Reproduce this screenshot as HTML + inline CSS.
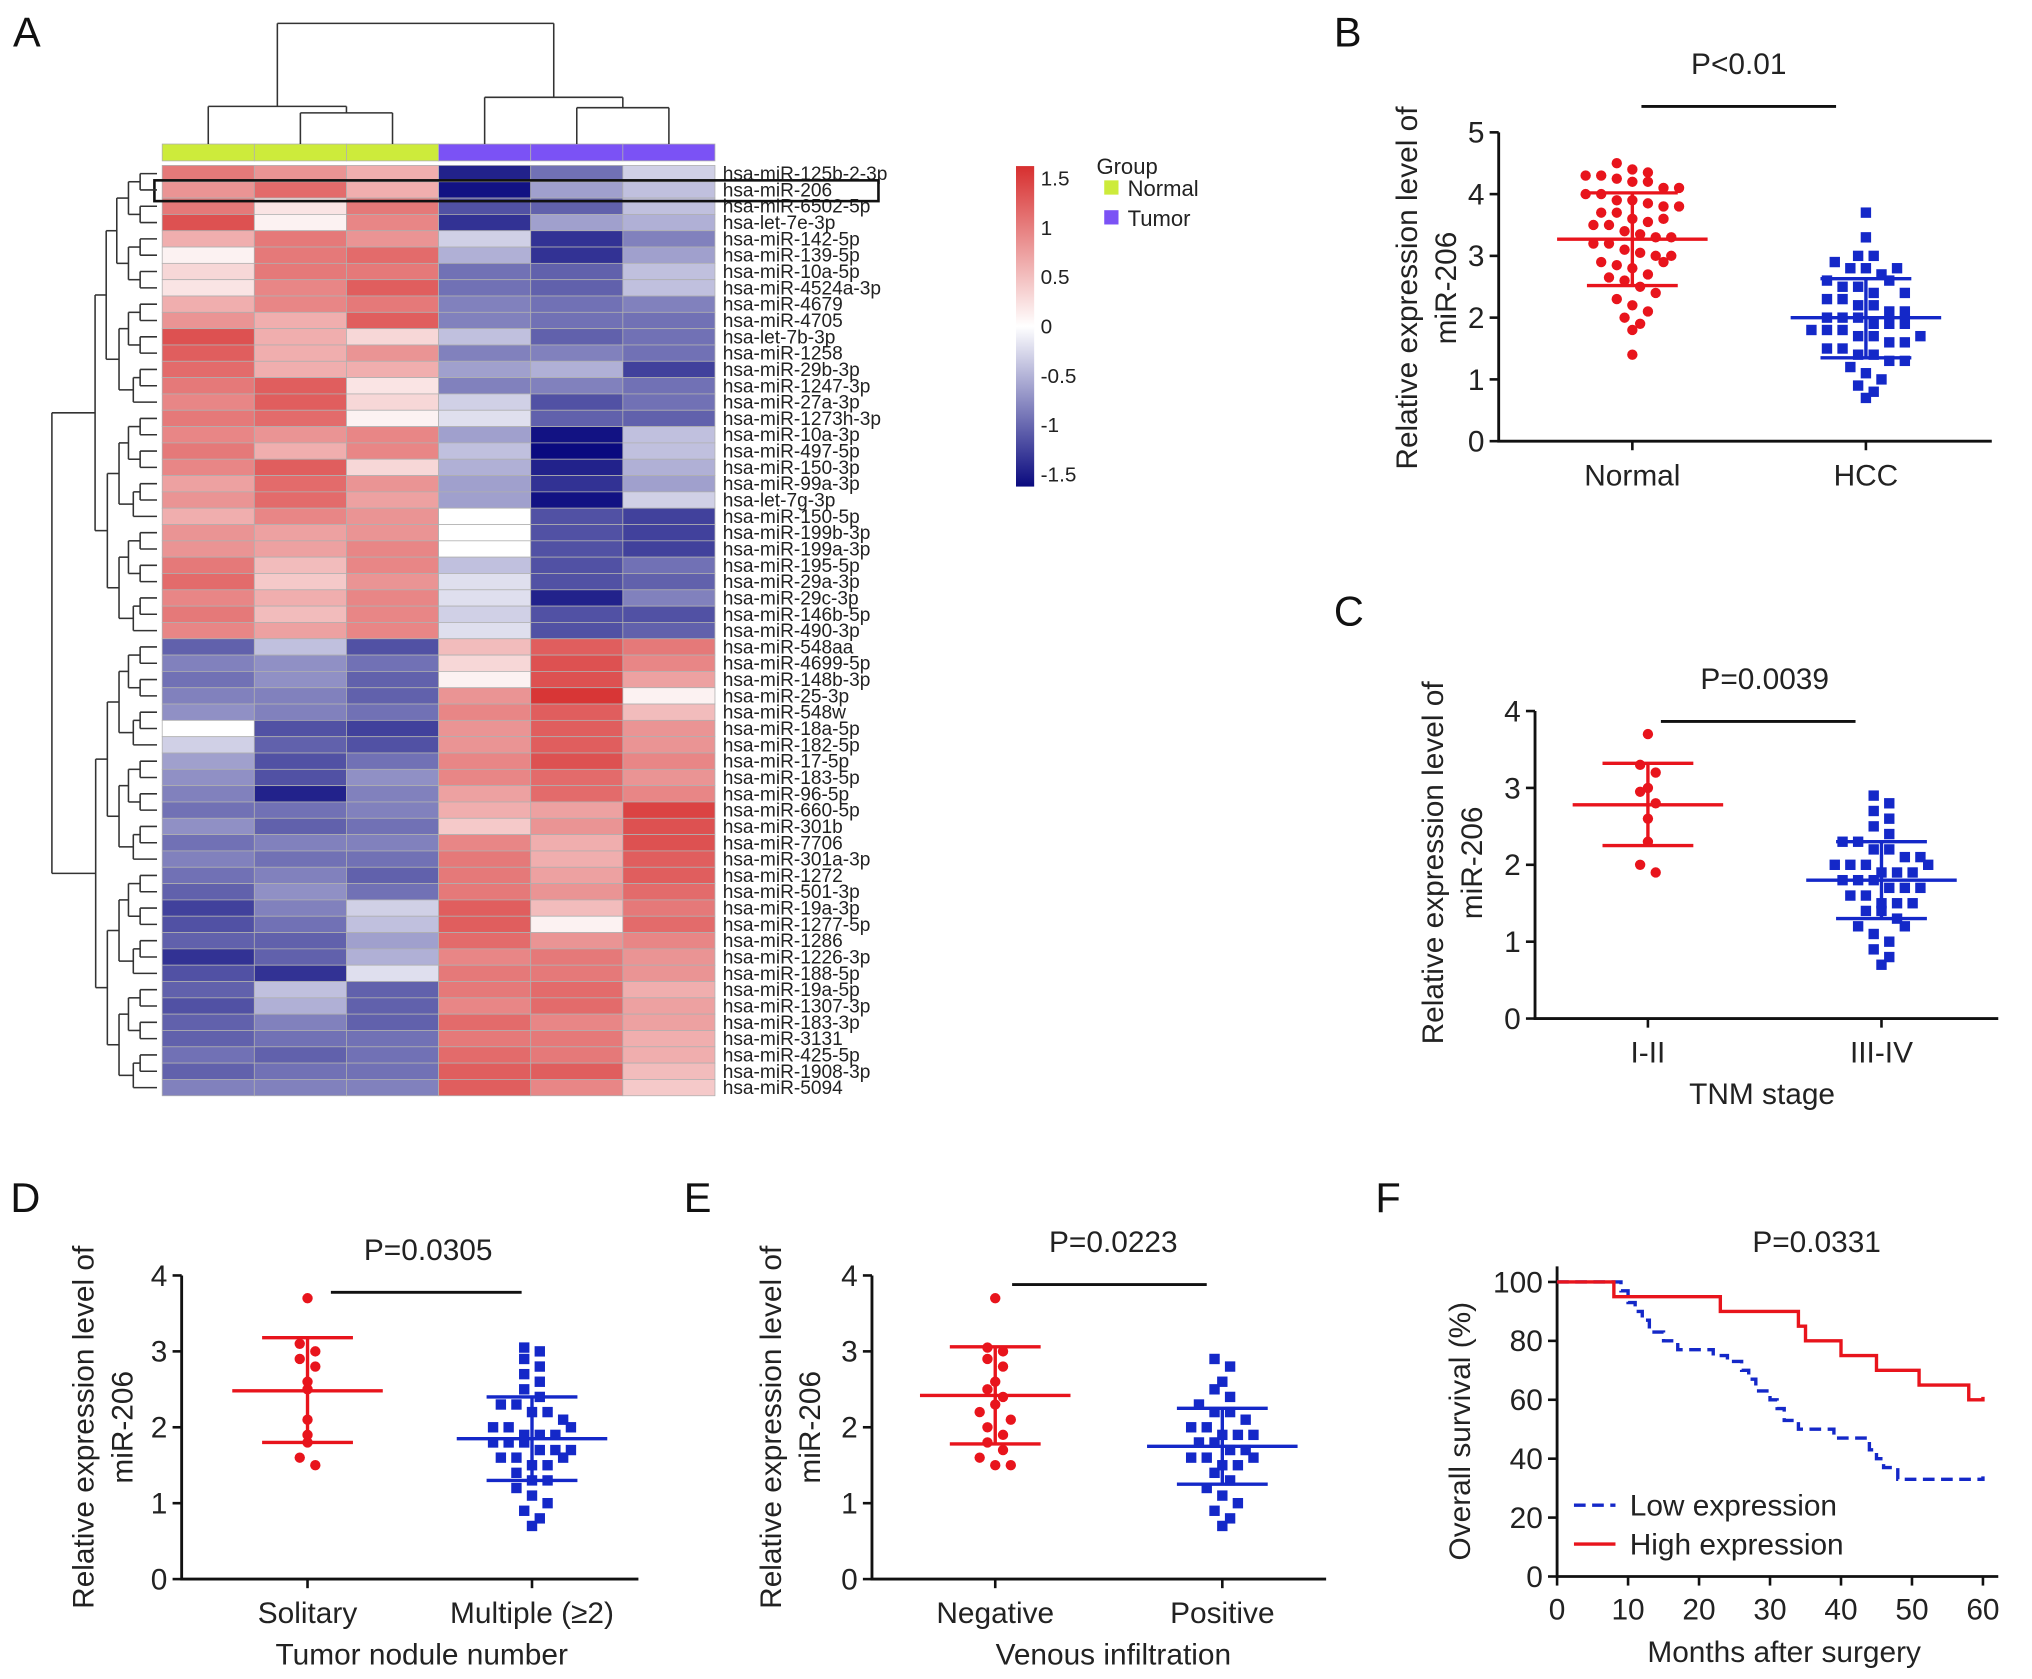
<!DOCTYPE html>
<html><head><meta charset="utf-8"><style>
html,body{margin:0;padding:0;background:#fff;}
svg{display:block;font-family:"Liberation Sans",Arial,sans-serif;}
</style></head><body>
<svg id="fig" width="2032" height="1679" viewBox="0 0 1566 1294" preserveAspectRatio="none" xmlns="http://www.w3.org/2000/svg">
<rect width="1566" height="1294" fill="#fff"/>
<g id="root"></g>
</svg>
<script>
// ===== Heatmap data =====
const hmRows = ["hsa-miR-125b-2-3p","hsa-miR-206","hsa-miR-6502-5p","hsa-let-7e-3p","hsa-miR-142-5p","hsa-miR-139-5p","hsa-miR-10a-5p","hsa-miR-4524a-3p","hsa-miR-4679","hsa-miR-4705","hsa-let-7b-3p","hsa-miR-1258","hsa-miR-29b-3p","hsa-miR-1247-3p","hsa-miR-27a-3p","hsa-miR-1273h-3p","hsa-miR-10a-3p","hsa-miR-497-5p","hsa-miR-150-3p","hsa-miR-99a-3p","hsa-let-7g-3p","hsa-miR-150-5p","hsa-miR-199b-3p","hsa-miR-199a-3p","hsa-miR-195-5p","hsa-miR-29a-3p","hsa-miR-29c-3p","hsa-miR-146b-5p","hsa-miR-490-3p","hsa-miR-548aa","hsa-miR-4699-5p","hsa-miR-148b-3p","hsa-miR-25-3p","hsa-miR-548w","hsa-miR-18a-5p","hsa-miR-182-5p","hsa-miR-17-5p","hsa-miR-183-5p","hsa-miR-96-5p","hsa-miR-660-5p","hsa-miR-301b","hsa-miR-7706","hsa-miR-301a-3p","hsa-miR-1272","hsa-miR-501-3p","hsa-miR-19a-3p","hsa-miR-1277-5p","hsa-miR-1286","hsa-miR-1226-3p","hsa-miR-188-5p","hsa-miR-19a-5p","hsa-miR-1307-3p","hsa-miR-183-3p","hsa-miR-3131","hsa-miR-425-5p","hsa-miR-1908-3p","hsa-miR-5094"];
const hmGroups = ["Normal","Normal","Normal","Tumor","Tumor","Tumor"];
const hmValues = [
[1.0,0.8,0.6,-1.4,-0.9,-0.3],[0.8,1.1,0.6,-1.5,-0.6,-0.4],[1.0,0.2,1.0,-1.1,-1.0,-0.4],[1.3,0.1,0.9,-1.3,-0.6,-0.5],
[0.6,1.0,0.8,-0.3,-1.3,-0.8],[0.1,1.0,1.1,-0.5,-1.3,-0.6],[0.3,1.0,1.0,-0.9,-1.0,-0.4],[0.2,0.9,1.2,-0.9,-1.0,-0.4],
[0.6,0.9,1.0,-0.8,-0.9,-0.8],[0.8,0.6,1.2,-0.8,-0.9,-0.9],[1.3,0.6,0.3,-0.4,-1.0,-0.9],[1.2,0.6,0.8,-0.8,-0.8,-0.9],
[1.1,0.6,0.6,-0.6,-0.5,-1.2],[1.0,1.2,0.2,-0.8,-0.8,-0.9],[0.9,1.2,0.3,-0.3,-1.1,-0.9],[1.0,1.1,0.1,-0.2,-1.0,-1.0],
[0.9,0.8,0.9,-0.6,-1.5,-0.4],[1.0,0.6,0.9,-0.4,-1.6,-0.4],[0.9,1.2,0.3,-0.5,-1.4,-0.5],[0.7,1.1,0.8,-0.6,-1.3,-0.6],
[0.8,1.1,0.7,-0.6,-1.5,-0.3],[0.6,0.9,0.8,0.0,-1.1,-1.2],[0.8,0.7,0.8,0.0,-1.1,-1.2],[0.8,0.7,0.9,0.0,-1.1,-1.2],
[1.0,0.5,0.9,-0.4,-1.1,-0.9],[1.1,0.4,0.8,-0.2,-1.1,-1.0],[0.9,0.6,0.9,-0.2,-1.4,-0.8],[1.0,0.5,0.9,-0.3,-1.1,-1.1],
[0.9,0.7,0.9,-0.2,-1.1,-1.0],
[-1.0,-0.4,-1.1,0.5,1.2,1.0],[-0.8,-0.7,-0.9,0.3,1.3,0.9],[-0.9,-0.7,-1.0,0.1,1.3,0.7],[-0.8,-0.8,-1.0,0.8,1.5,0.1],
[-0.7,-0.8,-0.9,0.9,1.2,0.5],[0.0,-1.1,-1.2,0.8,1.2,0.8],[-0.3,-1.0,-1.1,0.8,1.2,0.8],[-0.6,-1.1,-0.9,0.9,1.3,0.9],
[-0.7,-1.1,-0.7,0.9,1.1,0.8],[-0.8,-1.4,-0.8,0.7,1.1,0.9],[-0.9,-0.9,-0.8,0.6,0.7,1.4],[-0.7,-1.0,-0.9,0.4,0.8,1.3],
[-0.9,-0.8,-0.8,0.9,0.6,1.3],[-0.8,-0.9,-0.9,1.0,0.6,1.2],[-0.9,-0.8,-1.0,1.0,0.7,1.2],[-1.0,-0.7,-0.9,1.0,0.8,1.1],
[-1.2,-0.8,-0.3,1.2,0.5,1.0],[-1.1,-0.9,-0.4,1.2,0.1,1.1],[-1.0,-1.0,-0.6,1.1,0.8,0.9],[-1.3,-1.0,-0.5,0.9,1.0,0.8],
[-1.1,-1.3,-0.2,1.0,1.0,0.8],[-1.0,-0.4,-1.0,1.0,1.1,0.6],[-1.1,-0.5,-1.0,0.9,1.1,0.7],[-1.0,-0.8,-1.0,1.1,0.9,0.7],
[-1.0,-0.9,-0.9,1.0,1.0,0.6],[-0.9,-1.0,-0.9,1.1,1.0,0.6],[-1.0,-0.9,-0.9,1.2,1.2,0.5],[-0.8,-0.8,-0.8,1.2,0.9,0.4]
];
const cbTicks = [1.5,1,0.5,0,-0.5,-1,-1.5];

// ===== Panel B =====
const bCats = ["Normal","HCC"];
const bNormal = [4.5,4.4,4.35,4.3,4.3,4.25,4.2,4.2,4.1,4.0,4.0,3.9,3.9,3.85,3.8,3.7,3.7,3.6,3.55,3.5,3.5,3.4,3.35,3.3,3.3,3.2,3.2,3.1,3.05,3.0,3.0,2.9,2.85,2.8,2.7,2.65,2.6,2.5,2.4,2.3,2.2,2.1,2.0,1.9,1.8,1.4,3.6,3.8,2.9,4.1];
const bHCC = [3.7,3.3,3.0,3.0,2.9,2.8,2.8,2.7,2.6,2.5,2.5,2.4,2.3,2.3,2.2,2.2,2.1,2.1,2.0,2.0,2.0,1.9,1.9,1.9,1.8,1.8,1.8,1.7,1.7,1.6,1.6,1.5,1.5,1.4,1.4,1.3,1.3,1.2,1.1,1.0,0.9,0.8,0.7,2.6,1.7,2.4,2.8];
const bMean = [3.27,2.0];
const bSdLo = [2.52,1.35];
const bSdHi = [4.02,2.63];
const bTicks = [0,1,2,3,4,5];

// ===== Panel C =====
const cCats = ["I-II","III-IV"];
const cEarly = [3.7,3.3,3.2,3.0,2.95,2.8,2.6,2.3,2.0,1.9];
const cLate = [2.9,2.8,2.7,2.6,2.5,2.4,2.3,2.3,2.2,2.2,2.1,2.1,2.0,2.0,2.0,1.9,1.9,1.9,1.8,1.8,1.8,1.7,1.7,1.7,1.6,1.6,1.5,1.5,1.4,1.4,1.3,1.2,1.1,1.0,0.9,0.8,0.7,2.0,1.5,1.2];
const cMean = [2.78,1.8];
const cSdLo = [2.25,1.3];
const cSdHi = [3.32,2.3];

// ===== Panel D =====
const dCats = ["Solitary","Multiple (\u22652)"];
const dSolitary = [3.7,3.1,3.0,2.9,2.8,2.6,2.5,2.1,1.9,1.8,1.6,1.5];
const dMultiple = [3.05,3.0,2.9,2.8,2.7,2.6,2.5,2.4,2.3,2.3,2.2,2.2,2.1,2.0,2.0,1.9,1.9,1.9,1.8,1.8,1.8,1.7,1.7,1.7,1.6,1.6,1.5,1.5,1.4,1.3,1.2,1.1,1.0,0.9,0.8,0.7,2.0,1.6,1.3];
const dMean = [2.48,1.85];
const dSdLo = [1.8,1.3];
const dSdHi = [3.18,2.4];
const ticks04 = [0,1,2,3,4];

// ===== Panel E =====
const eCats = ["Negative","Positive"];
const eNegative = [3.7,3.05,3.0,2.9,2.8,2.6,2.5,2.4,2.2,2.0,1.9,1.8,1.7,1.6,1.5,1.5,2.3,2.1];
const ePositive = [2.9,2.8,2.6,2.5,2.4,2.3,2.2,2.2,2.1,2.0,2.0,1.9,1.9,1.8,1.8,1.7,1.7,1.6,1.6,1.5,1.5,1.4,1.3,1.2,1.1,1.0,0.9,0.8,0.7,1.9,1.6];
const eMean = [2.42,1.75];
const eSdLo = [1.78,1.25];
const eSdHi = [3.06,2.25];

// ===== Panel F =====
const fHighT = [0,8,12,23,34,35,40,45,51,58,60];
const fHighS = [100,95,95,90,85,80,75,70,65,60,61];
const fLowT = [0,8,9,10,11,12,13,15,17,20,22,24,26,27,28,30,31,32,34,39,41,44,45,46,48,60];
const fLowS = [100,100,97,93,90,87,83,80,77,77,75,73,70,67,63,60,57,53,50,47,47,43,40,37,33,34];
const fXTicks = [0,10,20,30,40,50,60];
const fYTicks = [0,20,40,60,80,100];

const NS="http://www.w3.org/2000/svg";
const root=document.getElementById('root');
function mk(tag,attrs,parent,text){const e=document.createElementNS(NS,tag);for(const k in attrs)e.setAttribute(k,attrs[k]);if(text!==undefined)e.textContent=text;(parent||root).appendChild(e);return e;}
function grp(name){const g=mk('g',{});


return g;}

// ---- panel letters
[["A",10,36],["B",1028,36],["C",1028,482],["D",8,934],["E",527,934],["F",1060,934]].forEach(p=>{
 const t=mk('text',{x:p[1],y:p[2],'font-size':32,fill:'#111'},root,p[0]);
 
 
});

// ===== Heatmap =====
(function(){
 const g=grp('heatmap');
 const x0=125,cw=71,y0=127.5,rh=717/hmRows.length;
 function col(v){
  const t=Math.max(-1.6,Math.min(1.6,v))/1.55;
  if(t>=0){const a=Math.min(1,t);return `rgb(${Math.round(255-a*40)},${Math.round(255-a*208)},${Math.round(255-a*208)})`;}
  const a=Math.min(1,-t);return `rgb(${Math.round(255-a*245)},${Math.round(255-a*245)},${Math.round(255-a*128)})`;
 }
 hmValues.forEach((row,r)=>{
  row.forEach((v,c)=>{
   const e=mk('rect',{x:x0+c*cw,y:y0+r*rh,width:cw,height:rh,fill:col(v),stroke:'#b0b0b0','stroke-width':0.6},g);
   
   
  });
  const t=mk('text',{x:557,y:y0+r*rh+rh*0.5+5,'font-size':15.2,fill:'#222',transform:`translate(557,0) scale(0.97,1) translate(-557,0)`},g,hmRows[r]);
  
  
 });
 hmGroups.forEach((gr,c)=>{
  const e=mk('rect',{x:x0+c*cw,y:111,width:cw,height:13,fill:gr==='Normal'?'#cdeb3b':'#7b52f5',stroke:'#b0b0b0','stroke-width':0.6},g);
  
  
 });
 const hb=mk('rect',{x:119,y:139,width:558,height:16,fill:'none',stroke:'#111','stroke-width':2},g);
 
 
 const cx=i=>x0+cw*(i+0.5);
 const L=(a,b,c,d)=>mk('line',{x1:a,y1:b,x2:c,y2:d,stroke:'#333','stroke-width':1.2},g);
 const m01=(cx(1)+cx(2))/2, m45=(cx(4)+cx(5))/2;
 L(cx(1),111,cx(1),87);L(cx(2),111,cx(2),87);L(cx(1),87,cx(2),87);
 L(cx(0),111,cx(0),82);L(m01,87,m01,82);L(cx(0),82,m01,82);
 const lc=(cx(0)+m01)/2;
 L(cx(4),111,cx(4),83);L(cx(5),111,cx(5),83);L(cx(4),83,cx(5),83);
 L(cx(3),111,cx(3),75);L(m45,83,m45,75);L(cx(3),75,m45,75);
 const rc=(cx(3)+m45)/2;
 L(lc,82,lc,18);L(rc,75,rc,18);L(lc,18,rc,18);
 function tree(lo,hi){
  if(lo===hi)return {y:y0+rh*(lo+0.5),x:x0-4};
  const size=hi-lo+1;
  const mid=(lo===0&&hi===hmRows.length-1)?28:Math.floor((lo+hi)/2);
  const a=tree(lo,mid),b=tree(mid+1,hi);
  const x=(lo===0&&hi===hmRows.length-1)?40:x0-8-9*Math.log2(size);
  L(a.x,a.y,x,a.y);L(b.x,b.y,x,b.y);L(x,a.y,x,b.y);
  return {x:x,y:(a.y+b.y)/2};
 }
 tree(0,hmRows.length-1);
 const defs=mk('defs',{},g);
 const lg=mk('linearGradient',{id:'cbg',x1:0,y1:0,x2:0,y2:1},defs);
 [[0,'rgb(215,47,47)'],[0.5,'#ffffff'],[1,'rgb(10,10,127)']].forEach(s=>mk('stop',{offset:s[0],'stop-color':s[1]},lg));
 const cb=mk('rect',{x:783,y:128,width:14,height:247,fill:'url(#cbg)'},g);
 
 
 cbTicks.forEach(v=>{
  const y=251-v*76;
  const t=mk('text',{x:802,y:y+6,'font-size':16,fill:'#222'},g,String(v));
  
  
 });
 const gt=mk('text',{x:845,y:134,'font-size':17,fill:'#222'},g,'Group');
 
 
 [['Normal','#cdeb3b',145],['Tumor','#7b52f5',168]].forEach(l=>{
  const r=mk('rect',{x:851,y:l[2]-6,width:11,height:11,fill:l[1]},g);
  
  
  const t=mk('text',{x:869,y:l[2]+6,'font-size':17,fill:'#222'},g,l[0]);
  
  
 });
})();

// ===== Dot plot helper =====
function dotPlot(o){
 const g=grp(o.name);
 const ys=v=>o.yBase-(v-0)*o.yUnit;
 const ax=mk('path',{d:`M${o.axX},${o.yBase-o.yMax*o.yUnit} V${o.yBase} H${o.axEnd}`,stroke:'#111','stroke-width':2.2,fill:'none'},g);
 
 
 o.ticks.forEach(t=>{
  mk('line',{x1:o.axX-7,y1:ys(t),x2:o.axX,y2:ys(t),stroke:'#111','stroke-width':2},g);
  const tx=mk('text',{x:o.axX-11,y:ys(t)+8,'font-size':23,'text-anchor':'end',fill:'#222'},g,String(t));
  
  
 });
 o.cats.forEach((c,i)=>{
  mk('line',{x1:o.cx[i],y1:o.yBase,x2:o.cx[i],y2:o.yBase+7,stroke:'#111','stroke-width':2},g);
  const tx=mk('text',{x:o.cx[i],y:o.yBase+34,'font-size':23,'text-anchor':'middle',fill:'#222'},g,c);
  
  
 });
 if(o.xTitle){const tx=mk('text',{x:o.xTitleX,y:o.yBase+66,'font-size':23,'text-anchor':'middle',fill:'#222'},g,o.xTitle);
  
  }
 const yl=mk('text',{transform:`translate(${o.ylX},${o.ylY}) rotate(-90)`,'font-size':23,'text-anchor':'middle',fill:'#222'},g);
 
 
 mk('tspan',{x:0,y:0},yl,'Relative expression level of');
 mk('tspan',{x:0,y:30},yl,'miR-206');
 const pt=mk('text',{x:o.pX,y:o.pY,'font-size':23,'text-anchor':'middle',fill:'#222'},g,o.pText);
 
 
 const pl=mk('line',{x1:o.pL[0],y1:o.pY+25,x2:o.pL[1],y2:o.pY+25,stroke:'#111','stroke-width':2.2},g);
 
 
 o.series.forEach((vals,i)=>{
  const color=i===0?'#e8141c':'#1428c8';
  const bins={};
  vals.forEach(v=>{const k=Math.round(v/o.bin);(bins[k]=bins[k]||[]).push(v);});
  Object.keys(bins).forEach(k=>{
   const arr=bins[k];
   arr.forEach((v,j)=>{
    const off=(j-(arr.length-1)/2)*o.sp;
    const x=o.cx[i]+off,y=ys(v);
    let e;
    if(i===0)e=mk('circle',{cx:x,cy:y,r:4,fill:color},g);
    else e=mk('rect',{x:x-4,y:y-4,width:8,height:8,fill:color},g);
    
    
   });
  });
  const m=mk('line',{x1:o.cx[i]-58,y1:ys(o.mean[i]),x2:o.cx[i]+58,y2:ys(o.mean[i]),stroke:color,'stroke-width':2.6},g);
  
  
  const eb=mk('path',{d:`M${o.cx[i]},${ys(o.lo[i])} V${ys(o.hi[i])} M${o.cx[i]-35},${ys(o.lo[i])} h70 M${o.cx[i]-35},${ys(o.hi[i])} h70`,stroke:color,'stroke-width':2.6,fill:'none'},g);
  
  
 });
}
dotPlot({name:'panel-b-dotplot',axX:1155,axEnd:1535,yBase:340,yUnit:47.6,yMax:5,ticks:bTicks,cats:bCats,cx:[1258,1438],ylX:1092,ylY:222,pText:'P<0.01',pX:1340,pY:57,pL:[1265,1415],series:[bNormal,bHCC],mean:bMean,lo:bSdLo,hi:bSdHi,bin:0.28,sp:12});
dotPlot({name:'panel-c-dotplot',axX:1183,axEnd:1540,yBase:785,yUnit:59.25,yMax:4,ticks:ticks04,cats:cCats,cx:[1270,1450],xTitle:'TNM stage',xTitleX:1358,ylX:1112,ylY:665,pText:'P=0.0039',pX:1360,pY:531,pL:[1280,1430],series:[cEarly,cLate],mean:cMean,lo:cSdLo,hi:cSdHi,bin:0.22,sp:12});
dotPlot({name:'panel-d-dotplot',axX:140,axEnd:492,yBase:1217,yUnit:58.5,yMax:4,ticks:ticks04,cats:dCats,cx:[237,410],xTitle:'Tumor nodule number',xTitleX:325,ylX:72,ylY:1100,pText:'P=0.0305',pX:330,pY:971,pL:[255,402],series:[dSolitary,dMultiple],mean:dMean,lo:dSdLo,hi:dSdHi,bin:0.22,sp:12});
dotPlot({name:'panel-e-dotplot',axX:672,axEnd:1022,yBase:1217,yUnit:58.5,yMax:4,ticks:ticks04,cats:eCats,cx:[767,942],xTitle:'Venous infiltration',xTitleX:858,ylX:602,ylY:1100,pText:'P=0.0223',pX:858,pY:965,pL:[780,930],series:[eNegative,ePositive],mean:eMean,lo:eSdLo,hi:eSdHi,bin:0.22,sp:12});

// ===== Panel F: KM =====
(function(){
 const g=grp('panel-f-survival');
 const xs=t=>1200+t*5.47, ys=s=>1215-s*2.27;
 const ax=mk('path',{d:`M1200,${ys(100)-12} V1215 H1540`,stroke:'#111','stroke-width':2.2,fill:'none'},g);
 
 
 fXTicks.forEach(t=>{
  mk('line',{x1:xs(t),y1:1215,x2:xs(t),y2:1222,stroke:'#111','stroke-width':2},g);
  const tx=mk('text',{x:xs(t),y:1248,'font-size':23,'text-anchor':'middle',fill:'#222'},g,String(t));
  
  
 });
 fYTicks.forEach(s=>{
  mk('line',{x1:1193,y1:ys(s),x2:1200,y2:ys(s),stroke:'#111','stroke-width':2},g);
  const tx=mk('text',{x:1189,y:ys(s)+8,'font-size':23,'text-anchor':'end',fill:'#222'},g,String(s));
  
  
 });
 const xt=mk('text',{x:1375,y:1281,'font-size':23,'text-anchor':'middle',fill:'#222'},g,'Months after surgery');
 
 
 const yt=mk('text',{transform:'translate(1133,1103) rotate(-90)','font-size':23,'text-anchor':'middle',fill:'#222'},g,'Overall survival (%)');
 
 
 const pt=mk('text',{x:1400,y:965,'font-size':23,'text-anchor':'middle',fill:'#222'},g,'P=0.0331');
 
 
 function step(T,S){let d=`M${xs(T[0])},${ys(S[0])}`;for(let i=1;i<T.length;i++){d+=` H${xs(T[i])} V${ys(S[i])}`;}return d;}
 const lo=mk('path',{d:step(fLowT,fLowS),stroke:'#1428c8','stroke-width':2.6,fill:'none','stroke-dasharray':'9,5'},g);
 
 
 const hi=mk('path',{d:step(fHighT,fHighS),stroke:'#e8141c','stroke-width':2.6,fill:'none'},g);
 
 
 const l1=mk('line',{x1:1213,y1:1160,x2:1245,y2:1160,stroke:'#1428c8','stroke-width':2.6,'stroke-dasharray':'9,5'},g);
 
 
 const t1=mk('text',{x:1256,y:1168,'font-size':23,fill:'#222'},g,'Low expression');
 
 
 const l2=mk('line',{x1:1213,y1:1190,x2:1245,y2:1190,stroke:'#e8141c','stroke-width':2.6},g);
 
 
 const t2=mk('text',{x:1256,y:1198,'font-size':23,fill:'#222'},g,'High expression');
 
 
})();
</script>
</body></html>
